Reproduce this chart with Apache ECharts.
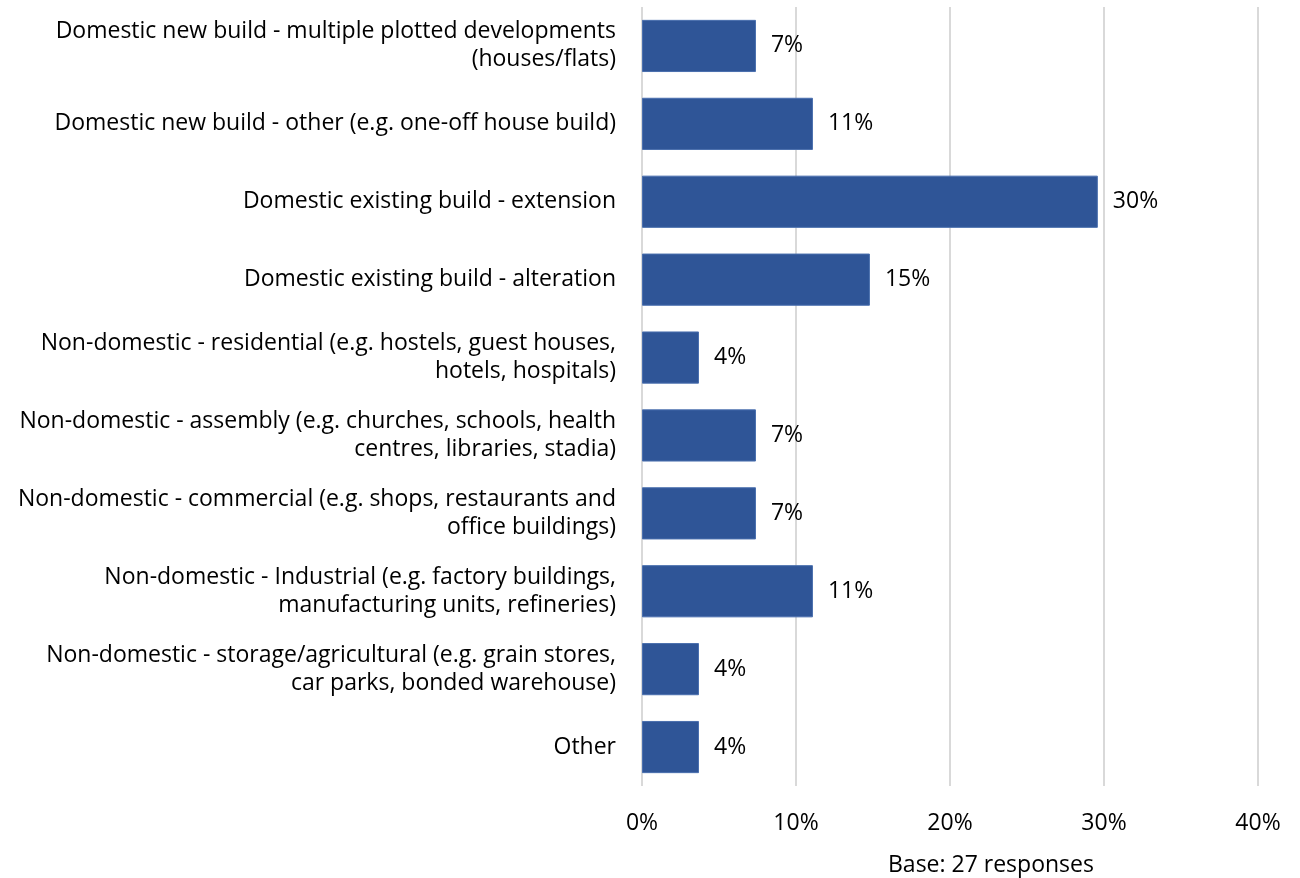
<!DOCTYPE html>
<html>
<head>
<meta charset="utf-8">
<script src="https://cdn.jsdelivr.net/npm/echarts@6/dist/echarts.min.js"></script>
<style>html,body{margin:0;padding:0;background:#fff}#c{width:1300px;height:878px}</style>
</head>
<body>
<div id="c"></div>
<script>
var categories = [
  "Domestic new build - multiple plotted developments\n(houses/flats)",
  "Domestic new build - other (e.g. one-off house build)",
  "Domestic existing build - extension",
  "Domestic existing build - alteration",
  "Non-domestic - residential (e.g. hostels, guest houses,\nhotels, hospitals)",
  "Non-domestic - assembly (e.g. churches, schools, health\ncentres, libraries, stadia)",
  "Non-domestic - commercial (e.g. shops, restaurants and\noffice buildings)",
  "Non-domestic - Industrial (e.g. factory buildings,\nmanufacturing units, refineries)",
  "Non-domestic - storage/agricultural (e.g. grain stores,\ncar parks, bonded warehouse)",
  "Other"
];
var values = [7.4, 11.1, 29.6, 14.8, 3.7, 7.4, 7.4, 11.1, 3.7, 3.7];
var xTicks = [0, 10, 20, 30, 40];
var baseNote = "Base: 27 responses";

var FONT = "Open Sans";
var FS = 23;
var chart = echarts.init(document.getElementById('c'));
chart.setOption({
  animation: false,
  grid: { left: 642, right: 42, top: 7, bottom: 92, containLabel: false },
  xAxis: {
    type: 'value', min: xTicks[0], max: xTicks[xTicks.length-1], interval: 10,
    axisLine: { show: false }, axisTick: { show: false },
    splitLine: { show: true, lineStyle: { color: '#d9d9d9', width: 2 } },
    axisLabel: { formatter: function(v){ return v + '%'; }, color: '#000', fontFamily: FONT, fontSize: FS, margin: 26 }
  },
  yAxis: {
    type: 'category', data: categories, inverse: true,
    axisLine: { show: false }, axisTick: { show: false },
    axisLabel: { color: '#000', fontFamily: FONT, fontSize: FS, lineHeight: 28, margin: 26, align: 'right' }
  },
  series: [{
    type: 'bar', data: values, barCategoryGap: '33%',
    itemStyle: { color: '#2F5597', borderColor: '#4a6fae', borderWidth: 1 },
    label: { show: true, position: 'right', distance: 15, color: '#000', fontFamily: FONT, fontSize: FS,
      formatter: function(p){ return Math.round(p.value) + '%'; } }
  }],
  graphic: [{ type: 'text', left: 888, top: 854, style: { text: baseNote, fill: '#000', font: FS + 'px ' + FONT } }]
});
</script>
</body>
</html>
